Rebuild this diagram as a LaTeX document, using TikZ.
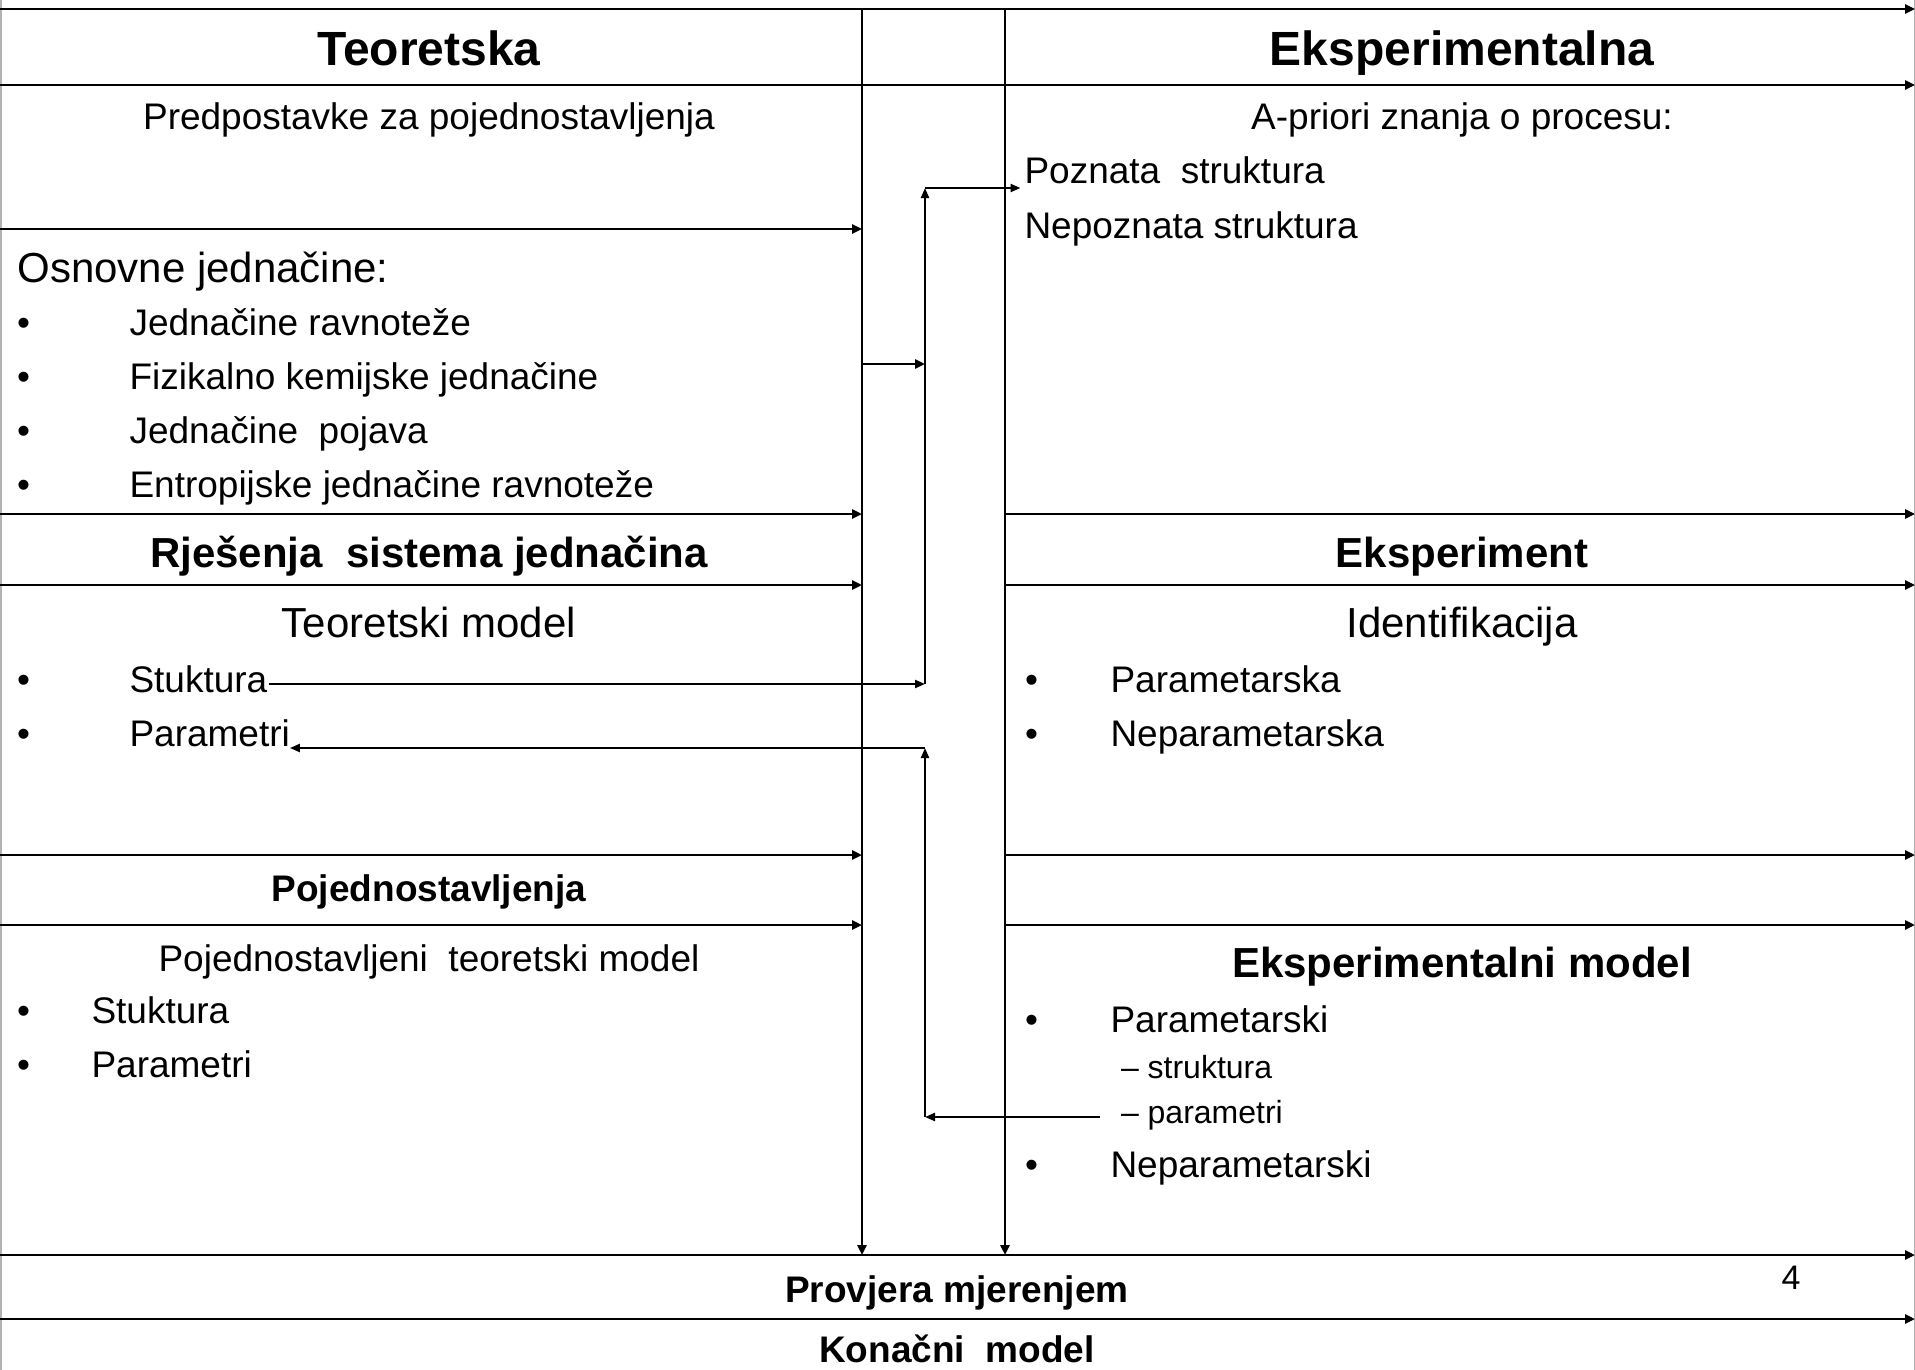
\documentclass[tikz,border=0pt]{standalone}
\usepackage{fontspec}
\setmainfont{Liberation Sans}
\usetikzlibrary{arrows.meta}
\begin{document}
\begin{tikzpicture}[x=1pt,y=-1pt,
  gridln/.style={line width=2.6pt,-{Triangle[length=10pt,width=9pt]}},
  conn/.style={line width=2.2pt,-{Triangle[length=10pt,width=8pt]}},
  edge/.style={line width=1.5pt,gray!60},
  base/.style={inner sep=0pt,outer sep=0pt},
  reg/.style={base,anchor=base west,font=\fontsize{37}{40}\selectfont},
  regc/.style={base,anchor=base,font=\fontsize{37}{40}\selectfont},
  regLc/.style={base,anchor=base,font=\fontsize{42}{46}\selectfont},
  regL/.style={base,anchor=base west,font=\fontsize{42}{46}\selectfont},
  head/.style={base,anchor=base,font=\fontsize{48}{52}\selectfont\bfseries},
  boldM/.style={base,anchor=base,font=\fontsize{42}{46}\selectfont\bfseries},
  boldS/.style={base,anchor=base,font=\fontsize{37}{40}\selectfont\bfseries},
  small/.style={base,anchor=base west,font=\fontsize{32}{36}\selectfont},
  pagenum/.style={base,anchor=base,font=\fontsize{34}{38}\selectfont}
]
\useasboundingbox (0,0) rectangle (1915,1370);
\fill[white] (0,0) rectangle (1915,1370);

% side edges
\draw[edge] (0.75,0) -- (0.75,1370);
\draw[edge] (1914.25,0) -- (1914.25,1370);

% grid coordinates
\coordinate (aTop) at (862,9);
\coordinate (aBot) at (862,1255);
\coordinate (bTop) at (1005,9);
\coordinate (bBot) at (1005,1255);

% full-width lines
\foreach \yy in {9,85,1255,1319} {
  \draw[gridln] (0,\yy) -- (1915,\yy);
}
% left segments
\foreach \yy in {229,514,585,855,925} {
  \draw[gridln] (0,\yy) -- (aTop |- 0,\yy);
}
% right segments
\foreach \yy in {514,585,855,925} {
  \draw[gridln] (bTop |- 0,\yy) -- (1915,\yy);
}
% verticals
\draw[gridln] (aTop) -- (aBot);
\draw[gridln] (bTop) -- (bBot);

% texts: headers
\node[head] (teo) at (429,66) {Teoretska};
\node[head] (eks) at (1462,66) {Eksperimentalna};

\node[regc] (pred) at (429,130) {Predpostavke za pojednostavljenja};
\node[regc] (apri) at (1462,130) {A-priori znanja o procesu:};
\node[reg] (pozn) at (1024.5,184) {Poznata\ \ struktura};
\node[reg] (nepozn) at (1024.5,238) {Nepoznata struktura};

\node[regL] (osn) at (17.5,282) {Osnovne jednačine:};
\node[reg] (b1) at (17,335) {•};
\node[reg] (i1) at (129.5,335) {Jednačine ravnoteže};
\node[reg] (b2) at (17,389) {•};
\node[reg] (i2) at (129.5,389) {Fizikalno kemijske jednačine};
\node[reg] (b3) at (17,443) {•};
\node[reg] (i3) at (129.5,443) {Jednačine\ \ pojava};
\node[reg] (b4) at (17,497) {•};
\node[reg] (i4) at (129.5,497) {Entropijske jednačine ravnoteže};

\node[boldM] (rje) at (429,567) {Rješenja\ \ sistema jednačina};
\node[boldM] (eksp) at (1462,567) {Eksperiment};

\node[regLc] (tm) at (429,637) {Teoretski model};
\node[regLc] (ident) at (1462,637) {Identifikacija};

\node[reg] (b5) at (17,692) {•};
\node[reg] (struk) at (129.5,692) {Stuktura};
\node[reg] (b6) at (17,746) {•};
\node[reg] (par) at (129.5,746) {Parametri};

\node[reg] (rb1) at (1025,692) {•};
\node[reg] (parska) at (1110.5,692) {Parametarska};
\node[reg] (rb2) at (1025,746) {•};
\node[reg] (nparska) at (1110.5,746) {Neparametarska};

\node[boldS] (poj) at (429,901) {Pojednostavljenja};
\node[regc] (ptm) at (429,971) {Pojednostavljeni\ \ teoretski model};
\node[reg] (b7) at (17,1023) {•};
\node[reg] (pstruk) at (91.5,1023) {Stuktura};
\node[reg] (b8) at (17,1077) {•};
\node[reg] (ppar) at (91.5,1077) {Parametri};

\node[boldM] (em) at (1462,977) {Eksperimentalni model};
\node[reg] (rb3) at (1025,1032) {•};
\node[reg] (parski) at (1110.5,1032) {Parametarski};
\node[small] (ds) at (1121,1078) {– struktura};
\node[small] (dp) at (1121,1123) {– parametri};
\node[reg] (rb4) at (1025,1177) {•};
\node[reg] (nparski) at (1110.5,1177) {Neparametarski};

\node[boldS] (prov) at (957,1302) {Provjera mjerenjem};
\node[boldS] (kon) at (957,1362) {Konačni\ \ model};
\node[pagenum] (four) at (1791,1289) {4};

% connectors
\coordinate (a364) at (862,364);
\coordinate (c364) at (925,364);
\draw[gridln] (a364) -- (c364);

\coordinate (c1) at (925,684);
\coordinate (c2) at (925,188);
\draw[conn] ([xshift=2pt]struk.east |- c1) -- (c1);
\draw[conn] (c1) -- (c2);
\draw[conn] (c2) -- ([xshift=-4pt]pozn.west |- c2);

\coordinate (fs) at (1100,1117);
\coordinate (f1) at (925,1117);
\coordinate (f2) at (925,748);
\draw[conn] (fs) -- (f1);
\draw[conn] (f1) -- (f2);
\draw[conn] (f2) -- (par.east |- f2);
\end{tikzpicture}
\end{document}
